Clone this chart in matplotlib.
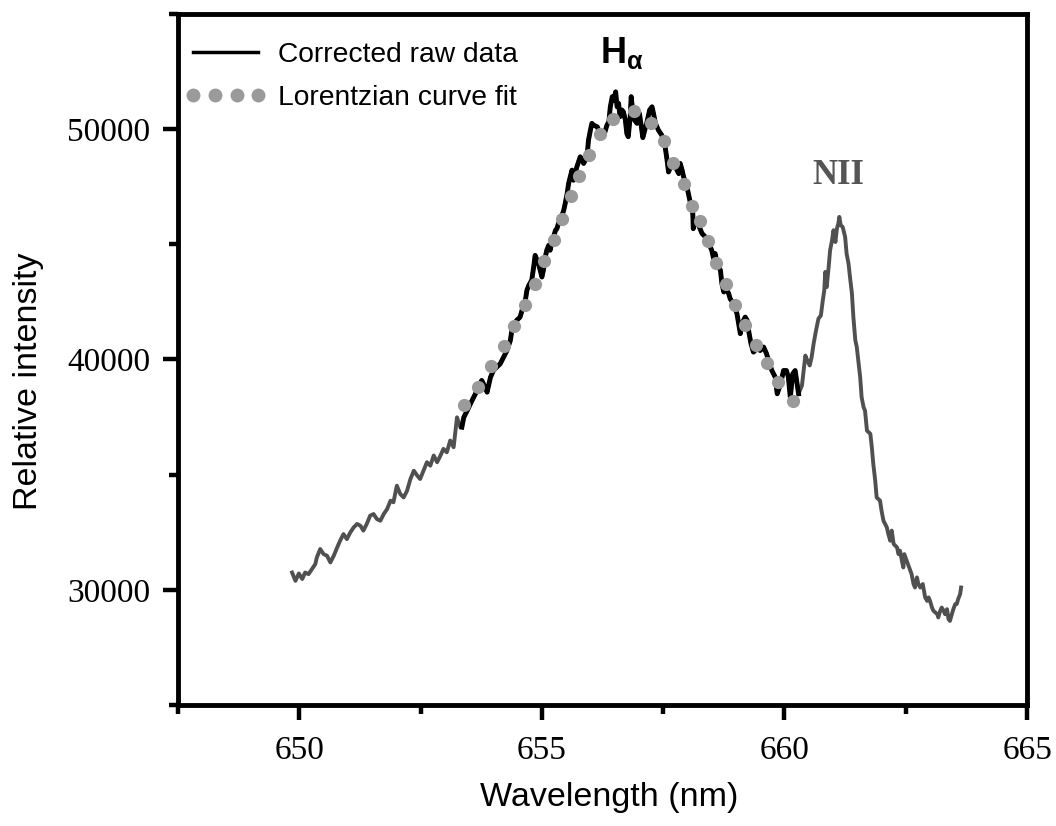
import matplotlib
matplotlib.use("Agg")
import matplotlib.pyplot as plt
from matplotlib.ticker import MultipleLocator
from matplotlib.lines import Line2D
import numpy as np

plt.rcParams['font.family'] = 'Liberation Sans'
plt.rcParams['mathtext.fontset'] = 'custom'
plt.rcParams['mathtext.rm'] = 'Liberation Sans'
plt.rcParams['mathtext.bf'] = 'Liberation Sans:bold'
plt.rcParams['mathtext.it'] = 'Liberation Sans:italic'

# measured spectrum, left wing (nm, counts)
wing_left_wl = [649.85, 649.92, 649.99, 650.06, 650.12, 650.19, 650.26, 650.33, 650.36, 650.43,
                650.50, 650.57, 650.64, 650.71, 650.78, 650.84, 650.91, 650.98, 651.05, 651.12,
                651.19, 651.26, 651.32, 651.39, 651.46, 651.53, 651.60, 651.67, 651.74, 651.81,
                651.88, 651.94, 652.01, 652.08, 652.15, 652.22, 652.29, 652.36, 652.43, 652.49,
                652.56, 652.63, 652.70, 652.77, 652.84, 652.91, 652.97, 653.04, 653.11, 653.18,
                653.25, 653.32]
wing_left_int = [30750, 30390, 30710, 30470, 30750, 30680, 30900, 31120, 31400, 31770,
                 31550, 31480, 31190, 31480, 31840, 32130, 32420, 32200, 32490, 32710,
                 32860, 32780, 32570, 32860, 33220, 33290, 33070, 33000, 33290, 33510,
                 33870, 33800, 34520, 34160, 34010, 34300, 34810, 35170, 34960, 34810,
                 35170, 35540, 35390, 35830, 35540, 35830, 36120, 35970, 36480, 36190,
                 37490, 37060]

# corrected raw data around H-alpha
core_wl = [653.35, 653.39, 653.46, 653.56, 653.63, 653.70, 653.76, 653.83, 653.87, 653.94,
           654.00, 654.07, 654.14, 654.21, 654.28, 654.35, 654.38, 654.41, 654.48, 654.55,
           654.59, 654.66, 654.69, 654.73, 654.79, 654.83, 654.86, 654.93, 655.00, 655.03,
           655.07, 655.10, 655.14, 655.17, 655.21, 655.24, 655.28, 655.31, 655.34, 655.38,
           655.45, 655.48, 655.52, 655.55, 655.62, 655.65, 655.72, 655.79, 655.83, 655.86,
           655.93, 655.96, 656.00, 656.03, 656.07, 656.14, 656.20, 656.27, 656.31, 656.34,
           656.38, 656.41, 656.45, 656.48, 656.52, 656.55, 656.58, 656.61, 656.65, 656.68,
           656.72, 656.75, 656.78, 656.82, 656.84, 656.87, 656.91, 656.96, 657.01, 657.05,
           657.08, 657.12, 657.16, 657.22, 657.27, 657.30, 657.34, 657.40, 657.47, 657.54,
           657.58, 657.61, 657.68, 657.75, 657.82, 657.85, 657.89, 657.92, 657.99, 658.06,
           658.11, 658.12, 658.16, 658.23, 658.30, 658.37, 658.43, 658.50, 658.54, 658.57,
           658.61, 658.68, 658.71, 658.75, 658.78, 658.85, 658.88, 658.95, 659.02, 659.09,
           659.12, 659.19, 659.23, 659.26, 659.31, 659.36, 659.43, 659.50, 659.57, 659.63,
           659.67, 659.74, 659.81, 659.85, 659.92, 659.98, 660.04, 660.08, 660.12, 660.17,
           660.22, 660.26, 660.29]
core_int = [37060, 37490, 37780, 38220, 38510, 38870, 39090, 38800, 38580, 39230,
            39520, 39670, 39810, 40100, 40390, 40830, 41260, 41400, 41700, 41840,
            42130, 42570, 43000, 43220, 43440, 44010, 44520, 44160, 43580, 43870,
            44450, 44740, 44960, 44740, 45170, 45320, 45610, 45680, 45900, 46040,
            46480, 46770, 47200, 47640, 48220, 47780, 48360, 48800, 48650, 48510,
            48800, 49520, 49960, 50250, 50170, 50100, 49810, 49670, 49960, 50170,
            50320, 50970, 51410, 51260, 51620, 50970, 51120, 50540, 50830, 50750,
            50390, 49810, 49670, 50540, 51410, 50830, 50390, 50250, 50680, 50100,
            49630, 49960, 50250, 50830, 50970, 50680, 50250, 49960, 49740, 49230,
            48650, 48140, 48510, 48360, 48070, 48510, 48220, 47930, 47490, 46800,
            46340, 45680, 46040, 45830, 45470, 45320, 45100, 44740, 44380, 44600,
            44160, 43870, 43290, 42930, 43140, 42860, 42640, 42420, 41990, 41120,
            41550, 41840, 41700, 41260, 40680, 40320, 40470, 40390, 40540, 40250,
            39960, 39520, 39230, 38510, 38940, 39520, 39520, 39230, 38360, 39380,
            39520, 38940, 38510]

# right wing with the NII line
wing_right_wl = [660.36, 660.43, 660.47, 660.52, 660.56, 660.60, 660.65, 660.70, 660.75, 660.79,
                 660.82, 660.84, 660.87, 660.91, 660.94, 660.98, 661.01, 661.05, 661.08, 661.11,
                 661.13, 661.16, 661.20, 661.25, 661.28, 661.32, 661.35, 661.39, 661.42, 661.46,
                 661.49, 661.52, 661.56, 661.59, 661.63, 661.66, 661.70, 661.77, 661.80, 661.83,
                 661.87, 661.90, 661.97, 662.00, 662.04, 662.11, 662.14, 662.18, 662.21, 662.25,
                 662.32, 662.35, 662.38, 662.42, 662.45, 662.47, 662.52, 662.57, 662.62, 662.66,
                 662.69, 662.73, 662.76, 662.80, 662.85, 662.90, 662.94, 662.97, 663.00, 663.04,
                 663.07, 663.15, 663.17, 663.21, 663.24, 663.28, 663.31, 663.35, 663.38, 663.41,
                 663.45, 663.48, 663.52, 663.55, 663.58, 663.62, 663.64]
wing_right_int = [38870, 40170, 39960, 39740, 40100, 40680, 41260, 41770, 41910, 42570,
                  43000, 43800, 43140, 44010, 44740, 45170, 45610, 45100, 45680, 45900,
                  46190, 45830, 45750, 45320, 44600, 44160, 43580, 42860, 41840, 40830,
                  40540, 39960, 39230, 38360, 37930, 37780, 36910, 36770, 36190, 35470,
                  34740, 34010, 33870, 33440, 33000, 32710, 32420, 32130, 32570, 31990,
                  31840, 31550, 31700, 31260, 30970, 31550, 31260, 30970, 30680, 30250,
                  30100, 30540, 30250, 30100, 30250, 29670, 29520, 29670, 29520, 29230,
                  29090, 28940, 28800, 29090, 29230, 29090, 28940, 29160, 28730, 28650,
                  28940, 29160, 29380, 29380, 29600, 29810, 30100]

# Lorentzian fit points
fit_wl = [653.40, 653.69, 653.96, 654.21, 654.43, 654.65, 654.86, 655.05, 655.24, 655.42,
          655.60, 655.77, 655.98, 656.20, 656.46, 656.90, 657.25, 657.51, 657.71, 657.93,
          658.10, 658.25, 658.42, 658.59, 658.79, 658.98, 659.19, 659.42, 659.64, 659.86,
          660.17]
fit_int = [38030, 38800, 39700, 40570, 41450, 42380, 43290, 44270, 45200, 46120,
           47090, 47970, 48870, 49770, 50430, 50800, 50270, 49480, 48530, 47610,
           46670, 46010, 45130, 44190, 43290, 42380, 41510, 40620, 39840, 39010,
           38190]

spec_wl = np.array(wing_left_wl + core_wl + wing_right_wl)
spec_int = np.array(wing_left_int + core_int + wing_right_int)

fig = plt.figure(figsize=(10.56, 8.26), dpi=100)
ax = fig.add_axes([0.1686, 0.1465, 0.8040, 0.8366])

# full spectrum in grey, corrected H-alpha part in black on top
ax.plot(spec_wl, spec_int, color='#505050', lw=2.8, zorder=2)
ax.plot(core_wl, core_int, color='black', lw=3.5, zorder=3)
ax.plot(fit_wl, fit_int, ls='none', marker='o', ms=9.5, color='#9a9a9a', mec='none', zorder=4)

ax.set_xlim(647.5, 665)
ax.set_ylim(25000, 55000)
ax.xaxis.set_major_locator(MultipleLocator(5))
ax.xaxis.set_minor_locator(MultipleLocator(2.5))
ax.yaxis.set_major_locator(MultipleLocator(10000))
ax.yaxis.set_minor_locator(MultipleLocator(5000))

for s in ax.spines.values():
    s.set_linewidth(3.5)
ax.tick_params(which='both', direction='out', width=3.2, top=False, right=False)
ax.tick_params(which='major', length=11)
ax.tick_params(which='minor', length=6.5)
ax.tick_params(axis='x', which='major', pad=11)
ax.tick_params(axis='y', which='major', pad=9)
for lab in ax.get_xticklabels() + ax.get_yticklabels():
    lab.set_fontfamily('Liberation Serif')
    lab.set_fontsize(24)

ax.set_xlabel('Wavelength (nm)', fontsize=24.5)
ax.set_ylabel('Relative intensity', fontsize=24.5)
ax.xaxis.set_label_coords(0.508, -0.112)
ax.yaxis.set_label_coords(-0.158, 0.469)

ax.text(656.64, 53300, r'$\mathbf{H}_{\mathbf{\alpha}}$', fontsize=26, ha='center', va='center')
ax.text(661.11, 48000, 'NII', fontsize=25, fontweight='bold', family='Liberation Serif',
        color='#555555', ha='center', va='center')

handles = [Line2D([], [], color='black', lw=2.5),
           Line2D([], [], ls='none', marker='o', ms=10, color='#9a9a9a', mec='none')]
ax.legend(handles, ['Corrected raw data', 'Lorentzian curve fit'], loc='upper left',
          bbox_to_anchor=(0.008, 0.960), frameon=False, fontsize=20.3, numpoints=4,
          handlelength=2.9, handletextpad=0.4, labelspacing=0.62, borderpad=0, borderaxespad=0)

plt.savefig('out.png', dpi=100, facecolor='white')
